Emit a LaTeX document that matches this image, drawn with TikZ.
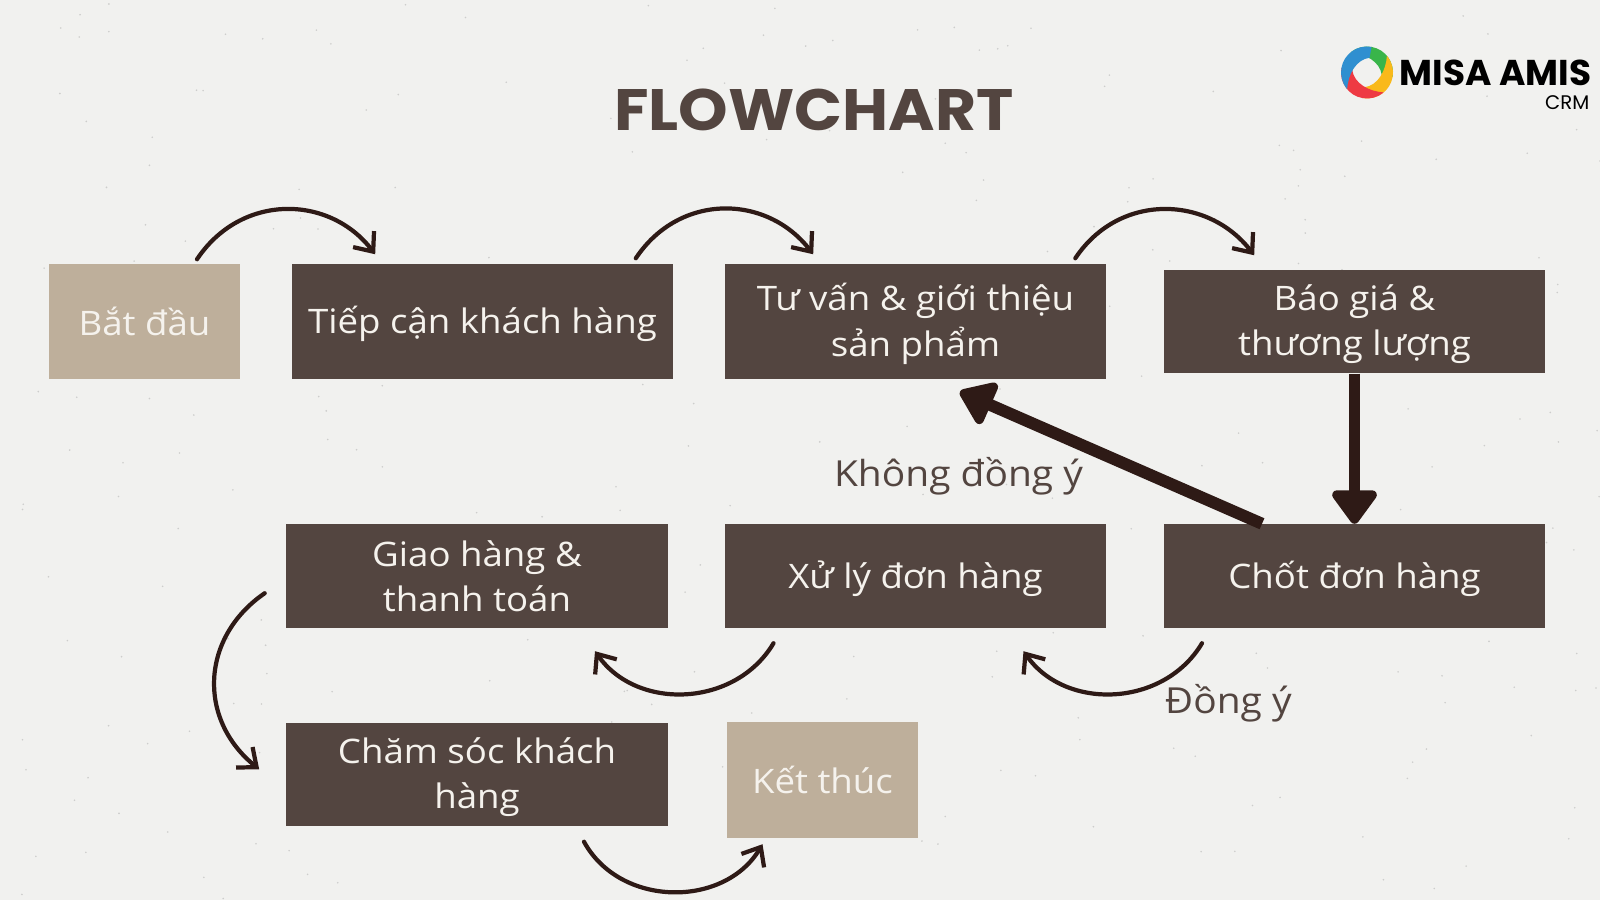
\documentclass[tikz,border=0pt]{standalone}
\usepackage{fontspec}
\setmainfont{Open Sans}[FakeStretch = 1.085]
\newfontfamily\titlefont{Poppins}[FakeStretch = 1.08]
\newfontfamily\logofont{Poppins}
\usetikzlibrary{arrows.meta}
\definecolor{paper}{HTML}{F1F1EF}
\definecolor{boxdark}{HTML}{534540}
\definecolor{boxtan}{HTML}{BEAF9B}
\definecolor{arrowdark}{HTML}{2E1A16}
\definecolor{boxtext}{HTML}{F5F2ED}
\tikzset{
	stepbox/.style = {fill = boxdark, text = boxtext, inner sep = 0, align = center, minimum width = 3.81cm, minimum height = 1.03cm, text depth = 0.8pt, font = \fontsize{9.6}{13}\selectfont},
	endbox/.style = {fill = boxtan, text = boxtext, inner sep = 0, align = center, minimum height = 1.15cm, font = \fontsize{9.6}{13}\selectfont},
	answer/.style = {text = boxdark, inner sep = 0, font = \fontsize{10.2}{13}\selectfont},
	swoop/.style = {draw = arrowdark, line width = 1.2pt, line cap = round, -{Straight Barb[length = 4.5pt, width = 7.5pt, line width = 1.2pt]}},
	thick arrow/.style = {draw = arrowdark, line width = 3.4pt, -{Triangle[length = 10.5pt, width = 14.5pt, round]}}
}
\begin{document}
\begin{tikzpicture}[x = 0.01cm, y = 0.01cm]
	\useasboundingbox (0, 0) rectangle (1600, 900);
	\fill [paper] (0, 0) rectangle (1600, 900);
	\pgfmathsetseed{42}
	\foreach \i in {1, ..., 300} {
		\fill [black!45, opacity = 0.35] ({rnd * 1600}, {rnd * 900}) circle (0.9);
	}
	\node (title) at (814, 790) [text = boxdark, inner sep = 0, font = \titlefont\bfseries\fontsize{16.6}{20}\selectfont] {FLOWCHART};
	\node (start) at (144.5, 578.5) [endbox, minimum width = 1.91cm] {Bắt đầu};
	\node (approach) at (482.5, 578.5) [stepbox, minimum height = 1.15cm] {Tiếp cận khách hàng};
	\node (consult) at (915.5, 578.5) [stepbox, minimum height = 1.15cm] {Tư vấn \& giới thiệu\\sản phẩm};
	\node (quote) at (1354.5, 578.5) [stepbox] {Báo giá \&\\thương lượng};
	\node (deliver) at (477, 324) [stepbox, text depth = 0pt] {Giao hàng \&\\thanh toán};
	\node (process) at (915.5, 324) [stepbox] {Xử lý đơn hàng};
	\node (close) at (1354.5, 324) [stepbox] {Chốt đơn hàng};
	\node (care) at (477, 125.5) [stepbox] {Chăm sóc khách\\hàng};
	\node (finish) at (822.5, 120) [endbox, minimum width = 1.9cm] {Kết thúc};
	\node (refuse) at (958.5, 424) [answer] {Không đồng ý};
	\node (agree) at (1228.5, 197) [answer] {Đồng ý};
	\draw [swoop] ([shift = {(52.5, 4)}] start.north) .. controls +(44, 66) and +(-46, 60) .. ([shift = {(84, 9)}] approach.north west);
	\draw [swoop] ([shift = {(-38, 5)}] approach.north east) .. controls +(44, 66) and +(-46, 60) .. ([shift = {(89, 9)}] consult.north west);
	\draw [swoop] ([shift = {(-31.5, 5)}] consult.north east) .. controls +(44, 66) and +(-46, 60) .. ([shift = {(91, 14)}] quote.north west);
	\draw [thick arrow] (quote) -- (close);
	\draw [thick arrow] ([shift = {(-92.5, 0)}] close.north) -- ([shift = {(44.5, -12)}] consult.south);
	\draw [swoop] ([shift = {(-152.5, -15)}] close.south) .. controls +(-38, -64) and +(42, -60) .. ([shift = {(108, -23)}] process.south);
	\draw [swoop] ([shift = {(-142, -15)}] process.south) .. controls +(-38, -64) and +(42, -60) .. ([shift = {(118, -23)}] deliver.south);
	\draw [swoop] ([shift = {(-21, 35)}] deliver.south west) .. controls +(-64, -44) and +(-62, 50) .. ([shift = {(-26.5, -47)}] care.north west);
	\draw [swoop] ([shift = {(107, -15)}] care.south) .. controls +(36, -66) and +(-38, -64) .. ([shift = {(-60, -6)}] finish.south);
	\begin{scope}[shift = {(1367, 827.5)}]
		\foreach \col/\ang in {39B54A/0, F9B91A/-90, EE3A43/-180, 2F8FD0/-270} {
			\definecolor{blade}{HTML}{\col}
			\fill [blade, rotate = \ang] (-10:26) arc (-10:130:26) .. controls (95:19) and (40:17) .. (-10:15) -- cycle;
		}
	\end{scope}
	\node (misa) at (1592, 827) [anchor = east, inner sep = 0, text = black, font = \logofont\bfseries\fontsize{10.2}{12}\selectfont] {MISA AMIS};
	\node (crm) at (1590, 797.5) [anchor = east, inner sep = 0, text = black, font = \logofont\fontsize{5.6}{8}\selectfont] {CRM};
\end{tikzpicture}
\end{document}
